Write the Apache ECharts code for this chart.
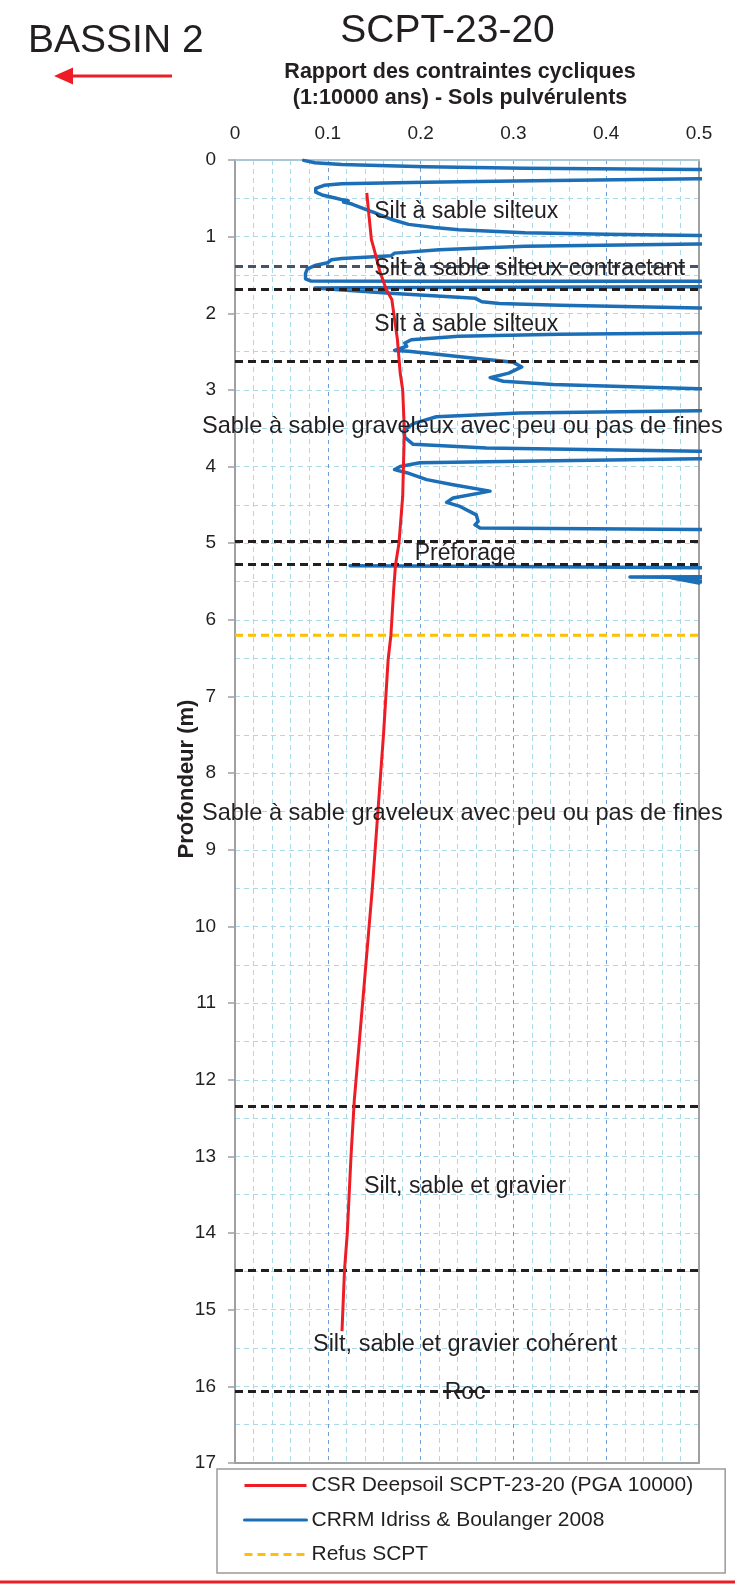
<!DOCTYPE html>
<html>
<head>
<meta charset="utf-8">
<title>SCPT-23-20</title>
<script src="https://cdn.jsdelivr.net/npm/echarts@6/dist/echarts.min.js"></script>
<style>
  html, body { margin: 0; padding: 0; background: #ffffff; }
  #chart { width: 735px; height: 1585px; }
</style>
</head>
<body>
<div id="chart"></div>
<script>
// ---- Data ----
const xTickLabels = ['0', '0.1', '0.2', '0.3', '0.4', '0.5'];
const depthTickLabels = ['0','1','2','3','4','5','6','7','8','9','10','11','12','13','14','15','16','17'];

// CSR Deepsoil (PGA 10000): cyclic stress ratio vs depth (m)
const csrValues = [0.142, 0.1444, 0.147, 0.150, 0.156, 0.163, 0.169, 0.172, 0.175, 0.178, 0.1807, 0.1825, 0.1807, 0.1767, 0.173, 0.171, 0.168, 0.165, 0.160, 0.154, 0.148, 0.141, 0.134, 0.1286, 0.125, 0.121, 0.118, 0.1153];
const csrDepths = [0.43, 0.73, 1.04, 1.17, 1.45, 1.69, 1.82, 2.08, 2.34, 2.78, 3.0, 3.52, 4.39, 5.0, 5.28, 5.6, 6.2, 6.52, 7.5, 8.5, 9.5, 10.5, 11.5, 12.26, 13.0, 14.0, 14.48, 15.28];

// CRRM Idriss & Boulanger 2008 (values above 0.5 run off the scale); null = no data (préforage)
const crrValues = [
  0.074, 0.086, 0.115, 0.205, 0.3125, 0.5, 0.8,
  0.8, 0.5, 0.3, 0.205, 0.115, 0.096, 0.087, 0.087, 0.095, 0.108, 0.116, 0.122, 0.117, 0.126, 0.14, 0.151, 0.17, 0.187, 0.215, 0.241, 0.3125, 0.4, 0.5, 0.8,
  0.8, 0.5, 0.3125, 0.22, 0.172, 0.168, 0.14, 0.115, 0.104, 0.1, 0.086, 0.078, 0.076, 0.076, 0.082, 0.2, 0.5, 0.8,
  0.8, 0.5, 0.2, 0.086, 0.12, 0.163, 0.259, 0.266, 0.285, 0.35, 0.5, 0.8,
  0.8, 0.5, 0.35, 0.241, 0.19, 0.183, 0.185, 0.172, 0.187, 0.253, 0.30, 0.309, 0.295, 0.275, 0.289, 0.343, 0.5, 0.8,
  0.8, 0.5, 0.307, 0.217, 0.192, 0.182, 0.183, 0.192, 0.271, 0.5, 0.8,
  0.8, 0.5, 0.307, 0.199, 0.178, 0.172, 0.185, 0.2066, 0.235, 0.2748, 0.235, 0.228, 0.2425, 0.260, 0.262, 0.2586, 0.264, 0.5, 0.8,
  null,
  0.124, 0.3, 0.5, 0.8, 0.8, 0.4256, 0.47, 0.8, 0.8, 0.47, 0.5, 0.48, 0.5, 0.6
];
const crrDepths = [
  0.005, 0.035, 0.058, 0.088, 0.107, 0.124, 0.15,
  0.195, 0.245, 0.275, 0.29, 0.311, 0.33, 0.37, 0.42, 0.46, 0.495, 0.52, 0.53, 0.55, 0.575, 0.64, 0.69, 0.78, 0.84, 0.88, 0.91, 0.95, 0.97, 0.986, 1.04,
  1.05, 1.095, 1.125, 1.17, 1.215, 1.25, 1.27, 1.285, 1.30, 1.34, 1.377, 1.42, 1.48, 1.55, 1.58, 1.582, 1.583, 1.585,
  1.652, 1.655, 1.665, 1.669, 1.70, 1.735, 1.805, 1.85, 1.872, 1.895, 1.93, 1.99,
  2.205, 2.256, 2.275, 2.30, 2.345, 2.387, 2.43, 2.485, 2.496, 2.58, 2.64, 2.70, 2.78, 2.84, 2.886, 2.93, 2.985, 3.02,
  3.22, 3.27, 3.30, 3.35, 3.44, 3.53, 3.62, 3.71, 3.757, 3.80, 3.86,
  3.846, 3.897, 3.93, 3.95, 4.0, 4.04, 4.08, 4.17, 4.236, 4.32, 4.41, 4.467, 4.52, 4.63, 4.715, 4.76, 4.80, 4.82, 4.845,
  null,
  5.293, 5.305, 5.32, 5.345, 5.43, 5.44, 5.445, 5.452, 5.46, 5.452, 5.52, 5.47, 5.50, 5.55
];

// Refus SCPT depth (m)
const refusDepth = 6.2;

// Stratigraphic boundaries (m)
const contractantTop = 1.38;
const layerBoundaries = [1.68, 2.62, 4.97, 5.28, 12.34, 14.48, 16.07];

// Layer descriptions and the depth each one is written at
const layerNames = [
  'Silt à sable silteux',
  'Silt à sable silteux contractant',
  'Silt à sable silteux',
  'Sable à sable graveleux avec peu ou pas de fines',
  'Préforage',
  'Sable à sable graveleux avec peu ou pas de fines',
  'Silt, sable et gravier',
  'Silt, sable et gravier cohérent',
  'Roc'
];
const layerNameDepths = [0.68, 1.41, 2.15, 3.475, 5.13, 8.52, 13.40, 15.46, 16.08];

const seriesNames = ['CSR Deepsoil SCPT-23-20 (PGA 10000)', 'CRRM Idriss & Boulanger 2008', 'Refus SCPT'];

// ---- Build ----
const FONT = '"Liberation Sans", Arial, Helvetica, sans-serif';
const TEXT = '#231F20';
const RED = '#EE1D25';
const BLUE = '#1C6EB7';

const pair = (xs, ys) => xs.map((v, i) => (v === null || ys[i] === null) ? ['-', '-'] : [v, ys[i]]);

// label anchors: upper silt layers start at 0.15, the others are centred near mid-scale
const labelData = layerNames.map((name, i) => {
  const leftAligned = i < 3;
  const wide = name.length > 40;
  return {
    name: name,
    value: [leftAligned ? 0.15 : (wide ? 0.245 : 0.248), layerNameDepths[i]],
    label: { align: leftAligned ? 'left' : 'center', fontSize: wide ? 23.6 : (name.length > 25 ? 23.5 : 23) }
  };
});

const boundaryStyle = { color: '#231F20', type: [8, 5], width: 3 };
const markLineData = [{ yAxis: contractantTop, lineStyle: { color: '#44546A', type: [8, 5], width: 3 } }]
  .concat(layerBoundaries.map(d => ({ yAxis: d, lineStyle: boundaryStyle })));

const chart = echarts.init(document.getElementById('chart'), null, { renderer: 'canvas' });

const option = {
  animation: false,
  backgroundColor: '#ffffff',
  textStyle: { fontFamily: FONT },
  grid: { left: 235, top: 160, width: 464, height: 1303, containLabel: false },
  legend: {
    data: seriesNames,
    orient: 'vertical',
    left: 217,
    top: 1469,
    padding: [6, 32, 8, 26],
    itemGap: 13.5,
    itemWidth: 62,
    itemHeight: 14,
    backgroundColor: '#ffffff',
    borderColor: '#9A9A9A',
    borderWidth: 1.5,
    borderRadius: 0,
    selectedMode: false,
    itemStyle: { color: 'rgba(0,0,0,0)', borderWidth: 0, opacity: 0 },
    lineStyle: { width: 3 },
    textStyle: { fontFamily: FONT, fontSize: 21, color: TEXT }
  },
  xAxis: [
    {
      type: 'value',
      position: 'top',
      min: 0, max: 0.5, interval: 0.1,
      axisLine: { show: true, onZero: false, lineStyle: { color: '#A9C7D4', width: 2 } },
      axisTick: { show: false },
      axisLabel: {
        fontSize: 19, color: TEXT, fontFamily: FONT, margin: 17,
        formatter: v => xTickLabels[Math.round(v / 0.1)]
      },
      splitLine: { show: true, lineStyle: { color: '#6E9ED6', type: [4, 4], width: 1 } },
      minorTick: { show: false, splitNumber: 5 },
      minorSplitLine: { show: true, lineStyle: { color: '#A9DAEA', type: [5, 4], width: 1 } }
    },
    {
      type: 'value',
      position: 'bottom',
      min: 0, max: 0.5, interval: 0.1,
      axisLine: { show: true, onZero: false, lineStyle: { color: '#A0A0A0', width: 2 } },
      axisTick: { show: false },
      axisLabel: { show: false },
      splitLine: { show: false }
    }
  ],
  yAxis: [
    {
      type: 'value',
      inverse: true,
      position: 'left',
      min: 0, max: 17, interval: 1,
      axisLine: { show: true, onZero: false, lineStyle: { color: '#A0A0A0', width: 2 } },
      axisTick: { show: true, length: 7, lineStyle: { color: '#A0A0A0', width: 1.5 } },
      axisLabel: {
        fontSize: 19, color: TEXT, fontFamily: FONT, margin: 19,
        formatter: v => depthTickLabels[Math.round(v)]
      },
      splitLine: { show: true, lineStyle: { color: '#A9DAEA', type: [5, 4], width: 1 } },
      minorTick: { show: false, splitNumber: 2 },
      minorSplitLine: { show: true, lineStyle: { color: '#A9DAEA', type: [5, 4], width: 1 } }
    },
    {
      type: 'value',
      inverse: true,
      position: 'right',
      min: 0, max: 17, interval: 1,
      axisLine: { show: true, onZero: false, lineStyle: { color: '#A0A0A0', width: 2 } },
      axisTick: { show: false },
      axisLabel: { show: false },
      splitLine: { show: false }
    }
  ],
  series: [
    {
      name: seriesNames[2],
      type: 'line',
      xAxisIndex: 0, yAxisIndex: 0,
      data: [[0, refusDepth], [0.5, refusDepth]],
      symbol: 'none',
      lineStyle: { color: '#FFC000', width: 3, type: [8, 5] },
      itemStyle: { color: '#FFC000' },
      z: 3,
      markLine: {
        silent: true,
        symbol: ['none', 'none'],
        label: { show: false },
        data: markLineData
      }
    },
    {
      name: seriesNames[1],
      type: 'line',
      xAxisIndex: 0, yAxisIndex: 0,
      data: pair(crrValues, crrDepths),
      symbol: 'none',
      connectNulls: false,
      clip: true,
      lineStyle: { color: BLUE, width: 3.5, cap: 'round', join: 'round' },
      itemStyle: { color: BLUE },
      z: 4
    },
    {
      name: seriesNames[0],
      type: 'line',
      xAxisIndex: 0, yAxisIndex: 0,
      data: pair(csrValues, csrDepths),
      symbol: 'none',
      lineStyle: { color: RED, width: 3 },
      itemStyle: { color: RED },
      z: 5
    },
    {
      name: 'layers',
      type: 'scatter',
      xAxisIndex: 0, yAxisIndex: 0,
      symbolSize: 0,
      silent: true,
      z: 6,
      itemStyle: { opacity: 1 },
      data: labelData,
      label: {
        show: true,
        position: 'inside',
        formatter: '{b}',
        fontFamily: FONT,
        fontSize: 23,
        color: TEXT,
        opacity: 1,
        verticalAlign: 'middle'
      }
    }
  ],
  graphic: [
    {
      type: 'text', x: 28, y: 41,
      style: { text: 'BASSIN 2', font: '39px ' + FONT, fill: TEXT, align: 'left', verticalAlign: 'middle' }
    },
    {
      type: 'text', x: 447.5, y: 31,
      style: { text: 'SCPT-23-20', font: '39px ' + FONT, fill: TEXT, align: 'center', verticalAlign: 'middle' }
    },
    {
      type: 'text', x: 460, y: 72.5,
      style: { text: 'Rapport des contraintes cycliques', font: 'bold 21.5px ' + FONT, fill: TEXT, align: 'center', verticalAlign: 'middle' }
    },
    {
      type: 'text', x: 460, y: 98.5,
      style: { text: '(1:10000 ans) - Sols pulvérulents', font: 'bold 21.5px ' + FONT, fill: TEXT, align: 'center', verticalAlign: 'middle' }
    },
    {
      type: 'text', x: 187, y: 779, rotation: Math.PI / 2,
      style: { text: 'Profondeur (m)', font: 'bold 22px ' + FONT, fill: TEXT, align: 'center', verticalAlign: 'middle' }
    },
    {
      type: 'line',
      shape: { x1: 70, y1: 76, x2: 172, y2: 76 },
      style: { stroke: '#EE1D25', lineWidth: 3 }
    },
    {
      type: 'polygon',
      shape: { points: [[54, 76], [73, 67.5], [73, 84.5]] },
      style: { fill: '#EE1D25' }
    },
    {
      type: 'line',
      shape: { x1: 0, y1: 1582, x2: 735, y2: 1582 },
      style: { stroke: '#EE1D25', lineWidth: 3 }
    }
  ]
};

chart.setOption(option);
</script>
</body>
</html>
